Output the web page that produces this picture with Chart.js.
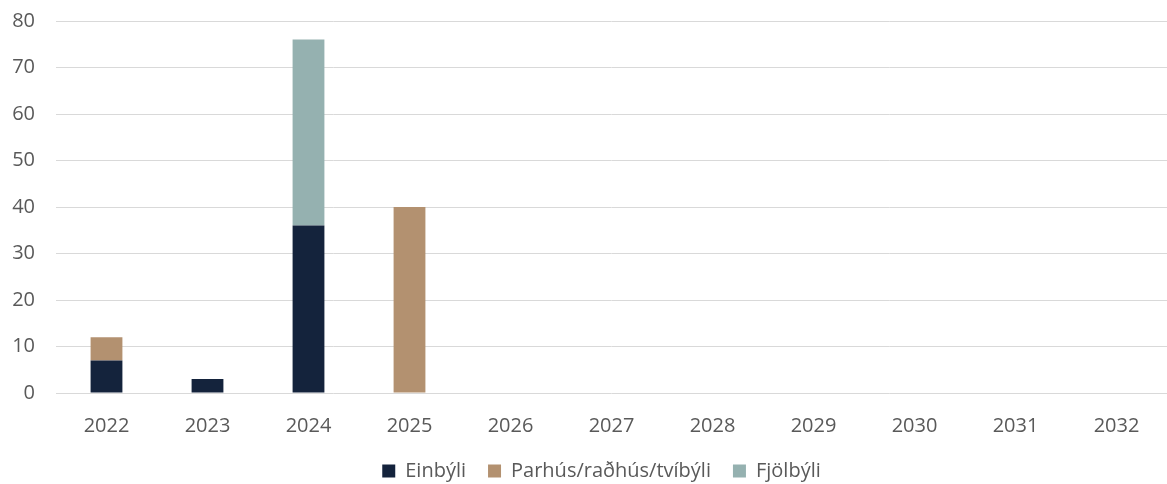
<!DOCTYPE html>
<html>
<head>
<meta charset="utf-8">
<script src="https://cdn.jsdelivr.net/npm/chart.js@4/dist/chart.umd.min.js"></script>
<style>
  html, body { margin: 0; padding: 0; background: #fff; }
  #wrap { width: 1167px; height: 484px; }
</style>
</head>
<body>
<div id="wrap"><canvas id="chart"></canvas></div>
<script>
// Gögn lesin af myndinni
const years = ['2022', '2023', '2024', '2025', '2026', '2027', '2028', '2029', '2030', '2031', '2032'];
const einbyli = [7, 3, 36, 0, 0, 0, 0, 0, 0, 0, 0];
const parhus = [5, 0, 0, 40, 0, 0, 0, 0, 0, 0, 0];
const fjolbyli = [0, 0, 40, 0, 0, 0, 0, 0, 0, 0, 0];

const textColor = '#595959';
const fontFamily = "'Open Sans', 'Liberation Sans', sans-serif";

const ds = (label, data, color) => ({
    label: label,
    data: data,
    backgroundColor: color,
    borderWidth: 0,
    barPercentage: 1,
    categoryPercentage: 0.315
});

new Chart(document.getElementById('chart'), {
    type: 'bar',
    data: {
        labels: years,
        datasets: [
            ds('Einbýli', einbyli, '#14233c'),
            ds('Parhús/raðhús/tvíbýli', parhus, '#b39170'),
            ds('Fjölbýli', fjolbyli, '#95b1b0')
        ]
    },
    options: {
        responsive: true,
        maintainAspectRatio: false,
        animation: false,
        layout: { padding: { top: 21, right: 0, left: 0, bottom: -7 } },
        plugins: {
            legend: {
                position: 'bottom',
                fullSize: false,
                labels: {
                    color: textColor,
                    font: { size: 20, family: fontFamily },
                    boxWidth: 13,
                    boxHeight: 13,
                    padding: 22,
                    // síðasta atriðið fær smá aukabil svo legendið færist aðeins til vinstri
                    generateLabels: function(chart) {
                        const items = Chart.defaults.plugins.legend.labels.generateLabels(chart);
                        items[items.length - 1].text += '\u2002\u2002';
                        return items;
                    }
                }
            },
            tooltip: { enabled: false }
        },
        scales: {
            x: {
                stacked: true,
                grid: { display: false, drawTicks: false },
                border: { display: false },
                ticks: {
                    color: textColor,
                    font: { size: 20, family: fontFamily },
                    padding: 21
                },
                afterFit: function(axis) { axis.height = 46; }
            },
            y: {
                stacked: true,
                min: 0,
                max: 80,
                grid: {
                    color: '#d9d9d9',
                    lineWidth: 1,
                    drawTicks: true,
                    tickLength: 21,
                    tickColor: 'rgba(0,0,0,0)'
                },
                border: { display: false },
                ticks: {
                    stepSize: 10,
                    color: textColor,
                    font: { size: 20, family: fontFamily },
                    padding: 0
                },
                afterFit: function(axis) { axis.width = 56; }
            }
        }
    }
});
</script>
</body>
</html>
